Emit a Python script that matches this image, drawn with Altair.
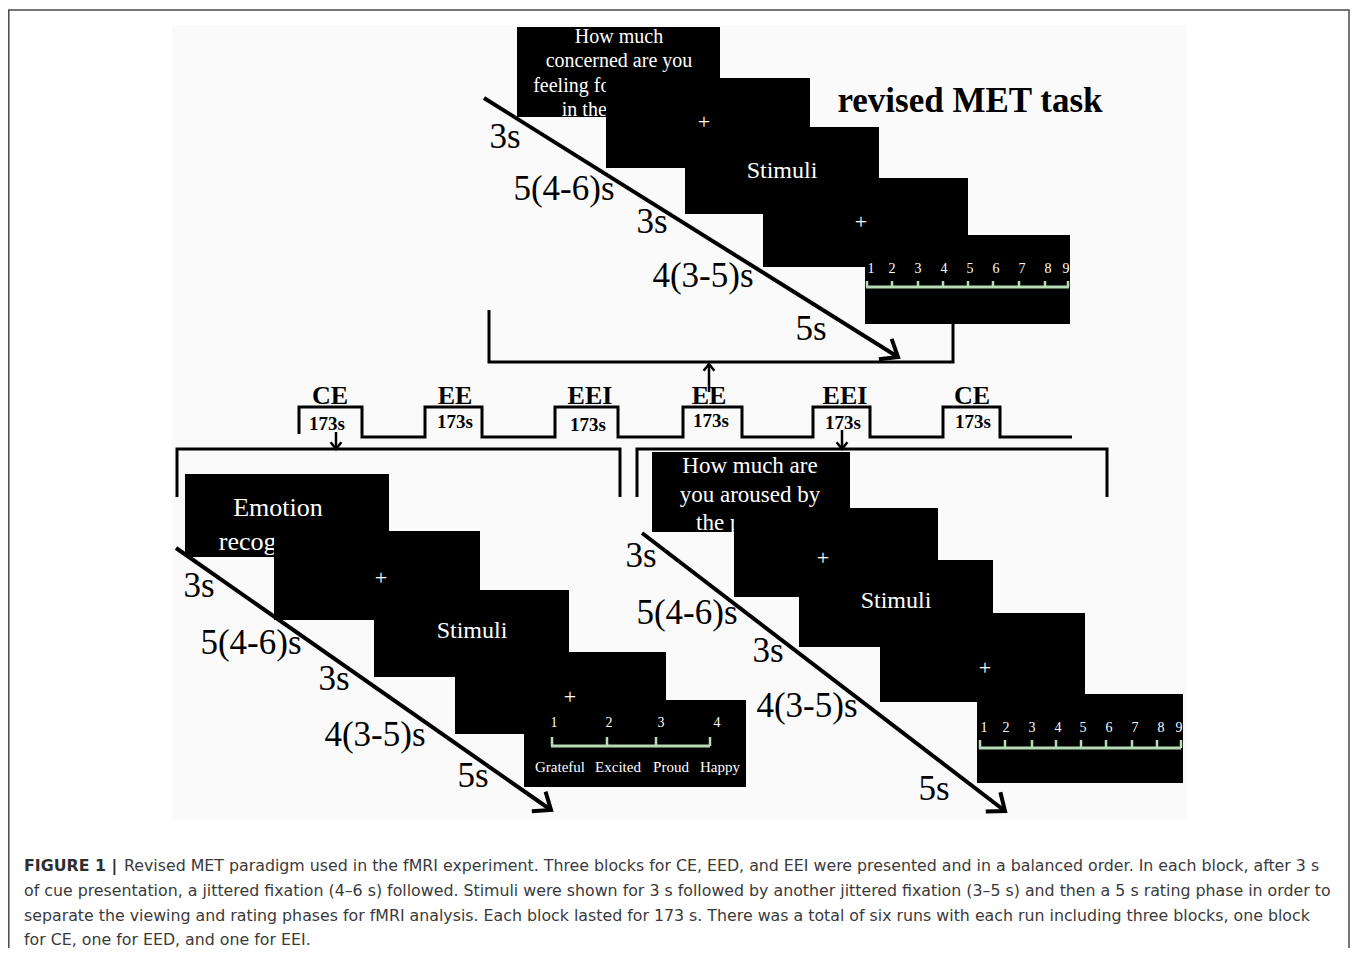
import altair as alt
import pandas as pd
import math

# ---------------- data (diagram geometry) ----------------
# screens of the three panels: top (revised MET), bottom-left (CE), bottom-right (EEI)
box_x0 = [517, 606, 685, 763, 865, 185, 274, 374, 455, 524, 652, 734, 799, 880, 977]
box_x1 = [720, 810, 879, 968, 1070, 389, 480, 569, 666, 746, 850, 938, 993, 1085, 1183]
box_y0 = [27, 78, 127, 178, 235, 474, 531, 590, 652, 700, 452, 508, 560, 613, 694]
box_y1 = [117, 168, 214, 267, 324, 557, 620, 677, 734, 787, 532, 597, 647, 702, 783]
box_step = [1, 2, 3, 4, 5] * 3

cue_text = ["How much", "concerned  are you", "feeling for the person", "in the picture?",
            "Emotion", "recognition",
            "How much are", "you aroused by", "the picture?"]
cue_x = [619, 619, 619, 619, 278, 278, 750, 750, 750]
cue_y = [37, 61, 86, 110, 508, 542, 466, 495, 523]
cue_size = [20, 20, 20, 20, 26, 26, 23, 23, 23]

screen_text = ["+", "Stimuli", "+", "+", "Stimuli", "+", "+", "Stimuli", "+"]
screen_x = [704, 782, 861, 381, 472, 570, 823, 896, 985]
screen_y = [122, 171, 222, 578, 631, 697, 558, 601, 668]
screen_size = [22, 24, 22, 22, 24, 22, 22, 24, 22]

nine = ["1", "2", "3", "4", "5", "6", "7", "8", "9"]
top_num_x = [871, 892, 918, 944, 970, 996, 1022, 1048, 1066]
right_num_x = [984, 1006, 1032, 1058, 1083, 1109, 1135, 1161, 1179]
left_num = ["1", "2", "3", "4"]
left_num_x = [554, 609, 661, 717]
emotions = ["Grateful", "Excited", "Proud", "Happy"]
emotion_x = [560, 618, 671, 720]

scale_x0 = [866, 551, 979]
scale_x1 = [1069, 710, 1181]
scale_y = [287, 746, 748]
scale_tick_top = [281, 737, 740]
top_tick_x = [867, 892, 918, 943, 968, 993, 1019, 1045, 1068]
left_tick_x = [552, 607, 656, 710]
right_tick_x = [980, 1005, 1032, 1056, 1081, 1106, 1132, 1157, 1181]

dur_text = ["3s", "5(4-6)s", "3s", "4(3-5)s", "5s"] * 3
dur_x = [505, 564, 652, 703, 811, 199, 251, 334, 375, 473, 641, 687, 768, 807, 934]
dur_y = [137, 189, 222, 276, 329, 586, 643, 679, 735, 776, 556, 613, 651, 706, 789]

diag_x0 = [484, 176, 642]
diag_y0 = [98, 548, 533]
diag_x1 = [898, 551, 1005]
diag_y1 = [357, 810, 811]

bracket_x = [[489, 489, 953, 953], [177, 177, 620, 620], [637, 637, 1107, 1107]]
bracket_y = [[310, 362, 362, 324], [497, 449, 449, 497], [497, 449, 449, 497]]

block_names = ["CE", "EE", "EEI", "EE", "EEI", "CE"]
block_start = [299, 425, 555, 683, 813, 943]
block_end = [362, 482, 618, 742, 870, 1000]
train_end = 1072
train_high = 407
train_low = 437
block_label_x = [330, 455, 590, 709, 845, 972]
block_len_text = ["173s"] * 6
block_len_x = [327, 455, 588, 711, 843, 973]
block_len_y = [424, 422, 425, 421, 423, 422]

small_arrow_x = [709, 336, 842]
small_arrow_y0 = [392, 432, 430]
small_arrow_y1 = [364, 449, 449]

caption_lines = [
    "Revised MET paradigm used in the fMRI experiment. Three blocks for CE, EED, and EEI were presented and in a balanced order. In each block, after 3 s",
    "of cue presentation, a jittered fixation (4\u20136 s) followed. Stimuli were shown for 3 s followed by another jittered fixation (3\u20135 s) and then a 5 s rating phase in order to",
    "separate the viewing and rating phases for fMRI analysis. Each block lasted for 173 s. There was a total of six runs with each run including three blocks, one block",
    "for CE, one for EED, and one for EEI.",
]
caption_x = [124, 24, 24, 24]
caption_y = [866, 891, 916, 940]

# ---------------- helpers ----------------
W, H = 1342, 940
xs = alt.Scale(domain=[8, 8 + W], nice=False, zero=False)
ys = alt.Scale(domain=[8, 8 + H], nice=False, zero=False, reverse=True)
SERIF = "Liberation Serif"
SANS = "DejaVu Sans"


def X(f):
    return alt.X(f, type="quantitative", scale=xs, axis=None)


def Y(f):
    return alt.Y(f, type="quantitative", scale=ys, axis=None)


def texts(df, color, bold=False, font=SERIF, align="center"):
    return alt.Chart(df).mark_text(
        font=font, color=color, align=align, baseline="middle",
        fontWeight="bold" if bold else "normal"
    ).encode(x=X("x"), y=Y("y"), text="t:N", size=alt.Size("s:Q", scale=None, legend=None))


def rules(df, color, width):
    return alt.Chart(df).mark_rule(color=color, strokeWidth=width, strokeCap="butt").encode(
        x=X("x0"), x2="x1", y=Y("y0"), y2="y1")


CHEVRON = "M -1 -0.8 L 0 0 L -1 0.8"


def heads(df, size, width):
    return alt.Chart(df).mark_point(
        shape=CHEVRON, filled=False, color="black", strokeWidth=width, size=size,
        opacity=1, strokeJoin="miter"
    ).encode(x=X("x"), y=Y("y"), angle=alt.Angle("a:Q", scale=None))


# ---------------- frames ----------------
frame = alt.Chart(pd.DataFrame({"x": [8.8, 8.8, 1349, 1349], "y": [960, 10, 10, 960], "o": [0, 1, 2, 3]})).mark_line(
    color="#4a4a4a", strokeWidth=1.5).encode(x=X("x"), y=Y("y"), order="o:Q")
panel = alt.Chart(pd.DataFrame({"x0": [172], "x1": [1187], "y0": [25], "y1": [820]})).mark_rect(
    color="#fafafa").encode(x=X("x0"), x2="x1", y=Y("y0"), y2="y1")

boxes = pd.DataFrame({"x0": box_x0, "x1": box_x1, "y0": box_y0, "y1": box_y1, "step": box_step})
cue_boxes = alt.Chart(boxes[boxes.step == 1]).mark_rect(color="black").encode(
    x=X("x0"), x2="x1", y=Y("y0"), y2="y1")
other_boxes = alt.Chart(boxes[boxes.step > 1]).mark_rect(color="black").encode(
    x=X("x0"), x2="x1", y=Y("y0"), y2="y1")

cue = texts(pd.DataFrame({"x": cue_x, "y": cue_y, "t": cue_text, "s": cue_size}), "white")
screens = texts(pd.DataFrame({"x": screen_x, "y": screen_y, "t": screen_text, "s": screen_size}), "white")

nums = pd.DataFrame({
    "x": top_num_x + right_num_x + left_num_x + emotion_x,
    "y": [269] * 9 + [728] * 9 + [723] * 4 + [767] * 4,
    "t": nine + nine + left_num + emotions,
    "s": [14] * 22 + [15] * 4,
})
num_text = texts(nums, "white")

GREEN = "#b6dcb6"
scale_lines = rules(pd.DataFrame({"x0": scale_x0, "x1": scale_x1, "y0": scale_y, "y1": scale_y}), GREEN, 3)
tick_x = top_tick_x + left_tick_x + right_tick_x
tick_y0 = [scale_tick_top[0]] * 9 + [scale_tick_top[1]] * 4 + [scale_tick_top[2]] * 9
tick_y1 = [scale_y[0]] * 9 + [scale_y[1]] * 4 + [scale_y[2]] * 9
scale_ticks = rules(pd.DataFrame({"x0": tick_x, "x1": tick_x, "y0": tick_y0, "y1": tick_y1}), GREEN, 2.5)

# diagonal time arrows
diag = pd.DataFrame({"x0": diag_x0, "x1": diag_x1, "y0": diag_y0, "y1": diag_y1})
diag_lines = rules(diag, "black", 4)
diag_heads = heads(pd.DataFrame({
    "x": diag_x1, "y": diag_y1,
    "a": [math.degrees(math.atan2(b1 - b0, a1 - a0)) for a0, a1, b0, b1 in zip(diag_x0, diag_x1, diag_y0, diag_y1)],
}), 900, 4)

durations = texts(pd.DataFrame({"x": dur_x, "y": dur_y, "t": dur_text, "s": [35] * 15}), "black")

# brackets
rows = []
for g, (bx, by) in enumerate(zip(bracket_x, bracket_y)):
    for i, (a, b) in enumerate(zip(bx, by)):
        rows.append({"g": g, "o": i, "x": a, "y": b})
brackets = alt.Chart(pd.DataFrame(rows)).mark_line(color="black", strokeWidth=3, strokeJoin="miter").encode(
    x=X("x"), y=Y("y"), detail="g:N", order="o:Q")

# block train
tx, ty = [], []
for s, e in zip(block_start, block_end):
    tx += [s, s, e, e]
    ty += [train_low, train_high, train_high, train_low]
tx.append(train_end)
ty.append(train_low)
ty[0] = 434
train = alt.Chart(pd.DataFrame({"x": tx, "y": ty, "o": list(range(len(tx)))})).mark_line(
    color="black", strokeWidth=3, strokeJoin="miter").encode(x=X("x"), y=Y("y"), order="o:Q")

block_labels = texts(pd.DataFrame({"x": block_label_x, "y": [396] * 6, "t": block_names, "s": [26] * 6}),
                     "black", bold=True)
block_lens = texts(pd.DataFrame({"x": block_len_x, "y": block_len_y, "t": block_len_text, "s": [19] * 6}),
                   "black", bold=True)

small = pd.DataFrame({"x0": small_arrow_x, "x1": small_arrow_x, "y0": small_arrow_y0, "y1": small_arrow_y1})
small_lines = rules(small, "black", 2.5)
small_heads = heads(pd.DataFrame({
    "x": small_arrow_x, "y": small_arrow_y1,
    "a": [270 if b1 < b0 else 90 for b0, b1 in zip(small_arrow_y0, small_arrow_y1)],
}), 180, 2.5)

title = texts(pd.DataFrame({"x": [970], "y": [101], "t": ["revised MET task"], "s": [35]}), "black", bold=True)

cap_bold = texts(pd.DataFrame({"x": [24], "y": [caption_y[0]], "t": ["FIGURE 1 |"], "s": [15.8]}), "#2e2e2e",
                 bold=True, font=SANS, align="left")
cap = texts(pd.DataFrame({"x": caption_x, "y": caption_y, "t": caption_lines, "s": [15.8] * 4}), "#3a3a3a",
            font=SANS, align="left")

chart = alt.layer(
    panel, frame, cue_boxes, cue, other_boxes, screens, num_text, scale_lines, scale_ticks,
    diag_lines, diag_heads, durations, brackets, train, block_labels, block_lens,
    small_lines, small_heads, title, cap_bold, cap,
).properties(
    width=W, height=H, padding=0, autosize=alt.AutoSizeParams(type="none")
).configure_view(stroke=None)

chart.save("out.html", embed_options={"renderer": "svg", "actions": False})
